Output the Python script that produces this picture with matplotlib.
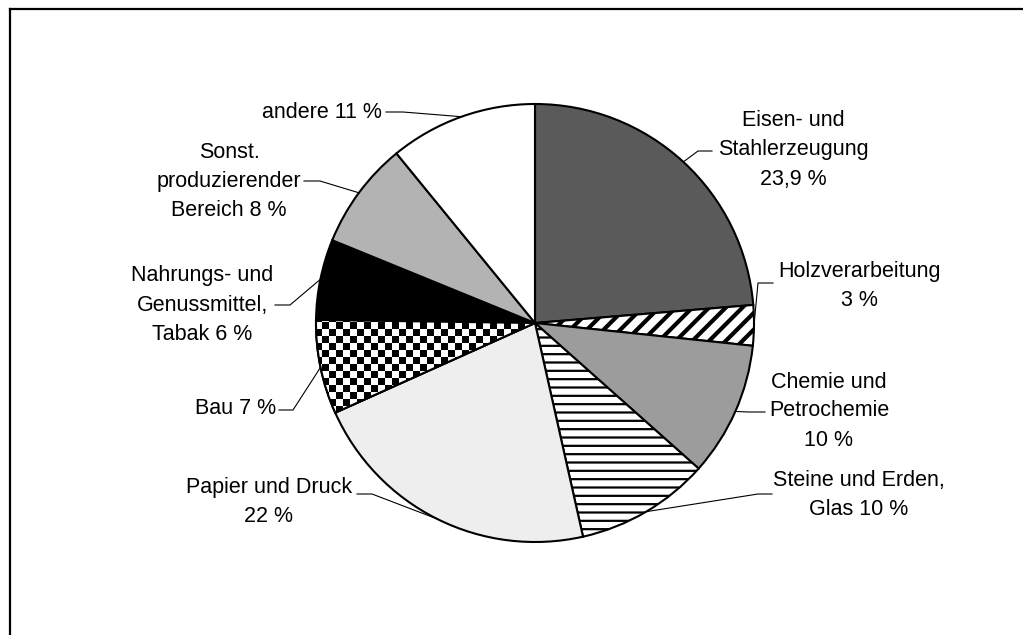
import numpy as np
import matplotlib
matplotlib.use("Agg")
import matplotlib.pyplot as plt
from matplotlib.patches import Wedge

plt.rcParams['font.family'] = ['Liberation Sans', 'DejaVu Sans']
plt.rcParams['hatch.linewidth'] = 2.0

# Anteile je Branche (Uhrzeigersinn ab 12 Uhr)
labels = ['Eisen- und\nStahlerzeugung\n23,9 %',
          'Holzverarbeitung\n3 %',
          'Chemie und\nPetrochemie\n10 %',
          'Steine und Erden,\nGlas 10 %',
          'Papier und Druck\n22 %',
          'Bau 7 %',
          'Nahrungs- und\nGenussmittel,\nTabak 6 %',
          'Sonst.\nproduzierender\nBereich 8 %',
          'andere 11 %']
shares = [23.9, 3, 10, 10, 22, 7, 6, 8, 11]

colors = ['#5a5a5a', 'white', '#9c9c9c', 'white', '#eeeeee',
          'white', 'black', '#b3b3b3', 'white']
hatches = [None, '//', None, '--', None, None, None, None, None]

# Position der Beschriftungen (Pixel) und Knick der Führungslinie
label_pos = [(793, 150), (859, 286), (829, 411), (859, 495), (269, 502),
             (236, 409), (202, 305), (229, 181), (322, 112)]
leader_start = [(712, 151), (773, 283), (765, 412), (772, 494), (357, 494),
                (279, 410), (275, 305), (304, 181), (386, 112)]
leader_knee = [(698, 151), (758, 283), (748, 412), (758, 494), (372, 494),
               (293, 410), (290, 305), (320, 181), (403, 112)]

W, H = 1023, 635
cx, cy, r = 535, 323, 219

fig = plt.figure(figsize=(W / 100, H / 100), dpi=100)
ax = fig.add_axes([0, 0, 1, 1])

wedges, _ = ax.pie(shares, colors=colors, startangle=-90, counterclock=True,
                   center=(cx, cy), radius=r,
                   wedgeprops=dict(edgecolor='black', linewidth=1.5))
for w, h in zip(wedges, hatches):
    if h:
        w.set_hatch(h)
if hasattr(wedges[1], 'set_hatch_linewidth'):
    wedges[1].set_hatch_linewidth(3.0)
    wedges[3].set_hatch_linewidth(1.6)

# Schachbrettmuster für "Bau"
bau = wedges[5]
cell = 7
ny, nx = H // cell + 1, W // cell + 1
yy, xx = np.indices((ny, nx))
board = (xx + yy) % 2
im = ax.imshow(board, cmap='gray', interpolation='nearest',
               extent=(0, nx * cell, ny * cell, 0), zorder=1.5)
im.set_clip_path(bau)
ax.add_patch(Wedge((cx, cy), r, bau.theta1, bau.theta2, fill=False,
                   edgecolor='black', linewidth=1.5, zorder=2))

ax.set_aspect('auto')
ax.set_xlim(0, W)
ax.set_ylim(H, 0)
ax.axis('off')

for w, txt, pos, s, k in zip(wedges, labels, label_pos, leader_start, leader_knee):
    a = np.deg2rad((w.theta1 + w.theta2) / 2)
    ex, ey = cx + r * np.cos(a), cy + r * np.sin(a)
    ax.plot([s[0], k[0], ex], [s[1], k[1], ey], color='black', lw=0.8, zorder=3)
    ax.text(pos[0], pos[1], txt, ha='center', va='center', fontsize=15.5,
            linespacing=1.5, zorder=4)

# Rahmen oben und links
ax.plot([10, W], [9, 9], color='black', lw=1.6, clip_on=False)
ax.plot([10, 10], [9, H], color='black', lw=1.6, clip_on=False)

fig.savefig('out.png', dpi=100)
